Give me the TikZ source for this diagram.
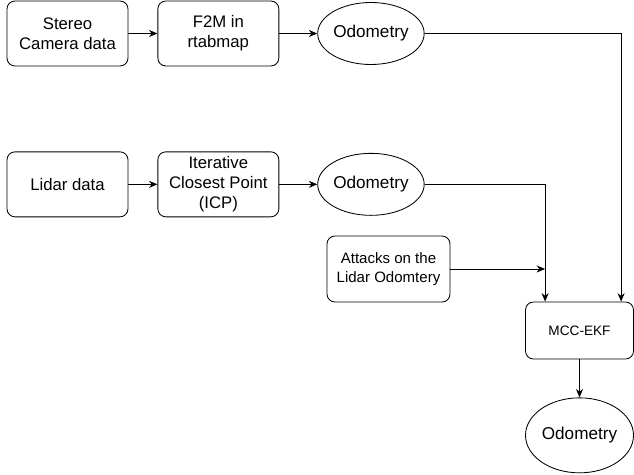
\documentclass[tikz,border=0pt]{standalone}
\usepackage{fontspec}
\setmainfont{Liberation Sans}
\usepackage{tikz}
\usetikzlibrary{shapes.geometric, arrows.meta, positioning, calc}

\begin{document}
\begin{tikzpicture}[
        block/.style={rectangle, rounded corners=0.2cm, draw, line width=0.6pt, minimum width=3.025cm, minimum height=1.625cm, align=center, inner sep=0pt, font=\fontsize{11.9}{14}\selectfont},
        odo/.style={ellipse, draw, line width=0.6pt, minimum width=2.325cm, minimum height=1.55cm, inner sep=0pt, font=\fontsize{12.2}{14}\selectfont},
        arr/.style={-{Stealth[length=6pt, width=5pt]}, line width=0.6pt}
    ]
        \useasboundingbox (0,0) rectangle (15.85,-11.875);
        % camera branch
        \node[block] (stereo) at (1.6875,-0.8375) {Stereo\\Camera data};
        \node[block, right=0.725cm of stereo] (f2m) {F2M in\\rtabmap};
        \node[odo, right=0.95cm of f2m] (odo1) {Odometry};
        % lidar branch
        \node[block, below=2.125cm of stereo] (lidar) {Lidar data};
        \node[block, right=0.725cm of lidar] (icp) {Iterative\\Closest Point\\(ICP)};
        \node[odo, right=0.95cm of icp] (odo2) {Odometry};
        \node[block, minimum width=3.075cm, minimum height=1.65cm, font=\fontsize{10.7}{13}\selectfont] (attacks) at (9.7125,-6.725) {Attacks on the\\Lidar Odomtery};
        % fusion
        \node[block, minimum width=2.7cm, minimum height=1.425cm, font=\fontsize{9.7}{11}\selectfont] (mcc) at (14.4875,-8.2625) {MCC-EKF};
        \node[odo, below=0.95cm of mcc, minimum width=2.7cm, minimum height=1.875cm] (odo3) {Odometry};
        \coordinate (camin) at ([xshift=1.04cm]mcc.north);
        \coordinate (lidin) at ([xshift=-0.86cm]mcc.north);

        \draw[arr] (stereo) -- (f2m);
        \draw[arr] (f2m) -- (odo1);
        \draw[arr] (lidar) -- (icp);
        \draw[arr] (icp) -- (odo2);
        \draw[arr] (odo1.east) -| (camin);
        \draw[arr] (odo2.east) -| (lidin);
        \draw[arr] (attacks.east) -- (attacks.east -| lidin);
        \draw[arr] (mcc) -- (odo3);
    \end{tikzpicture}
\end{document}
